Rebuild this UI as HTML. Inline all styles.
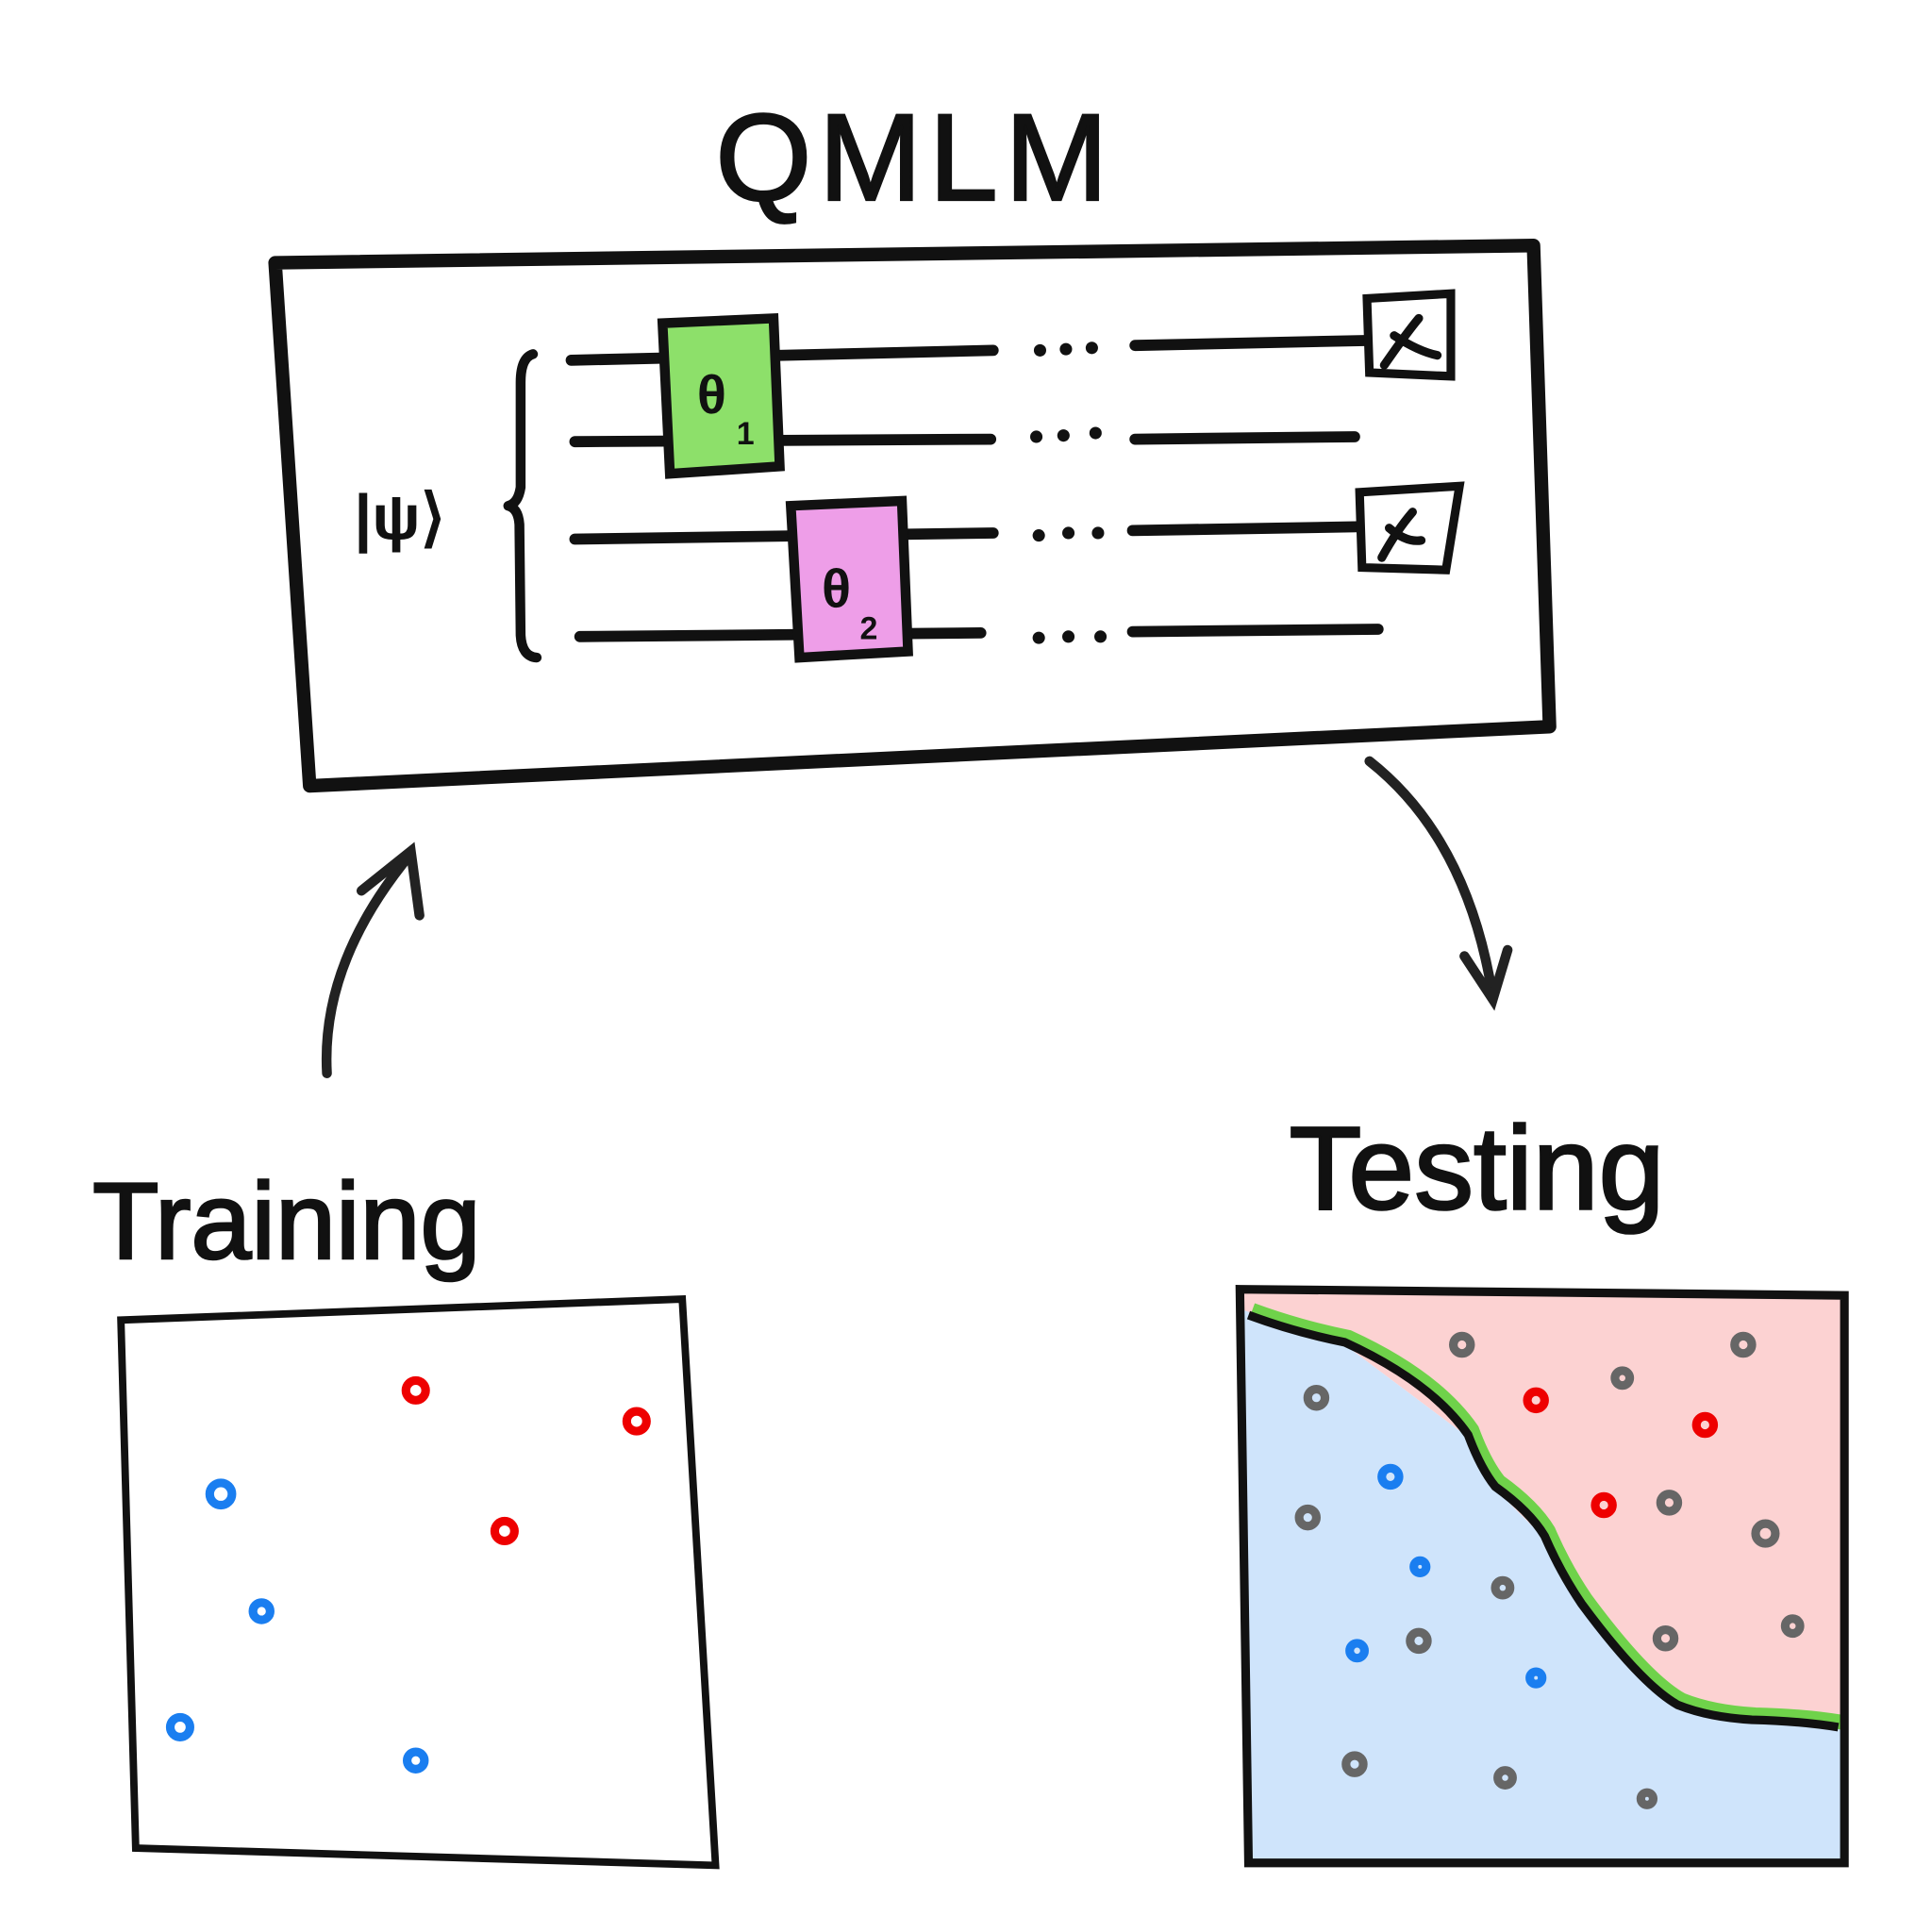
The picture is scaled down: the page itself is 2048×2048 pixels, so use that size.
<!DOCTYPE html>
<html><head><style>html,body{margin:0;padding:0;background:#fff}svg{display:block}</style></head>
<body>
<svg width="2048" height="2048" viewBox="0 0 1566 1566" xmlns="http://www.w3.org/2000/svg">
<g fill="none" stroke="#111" stroke-linecap="round" stroke-linejoin="round">
<polygon points="223,213 1243,199 1256,589 251,637" stroke-width="11"/>
<g stroke-width="9">
<line x1="463" y1="292" x2="805" y2="284"/><line x1="920" y1="280" x2="1106" y2="276"/>
<line x1="466" y1="358" x2="803" y2="356"/><line x1="920" y1="356" x2="1098" y2="354"/>
<line x1="466" y1="437" x2="805" y2="432"/><line x1="918" y1="430" x2="1100" y2="427"/>
<line x1="470" y1="516" x2="795" y2="513"/><line x1="918" y1="512" x2="1117" y2="510"/>
</g>
<path d="M432,287 Q422,290 422,310 L422,395 Q420,408 412,410 Q420,412 421,425 L422,515 Q423,532 435,533" stroke-width="8"/>
</g>
<g fill="#111">
<circle cx="843" cy="284" r="5"/><circle cx="864" cy="283" r="5"/><circle cx="885" cy="282" r="5"/>
<circle cx="840" cy="354" r="5"/><circle cx="862" cy="353" r="5"/><circle cx="888" cy="351" r="5"/>
<circle cx="842" cy="434" r="5"/><circle cx="866" cy="432" r="5"/><circle cx="890" cy="432" r="5"/>
<circle cx="842" cy="517" r="5"/><circle cx="866" cy="516" r="5"/><circle cx="892" cy="516" r="5"/>
</g>
<polygon points="537,262 627,258 632,378 543,384" fill="#8de06a" stroke="#111" stroke-width="8"/>
<text x="565" y="335" font-family="Liberation Sans, sans-serif" font-size="44" font-weight="bold" fill="#111">θ</text>
<text x="597" y="360" font-family="Liberation Sans, sans-serif" font-size="26" font-weight="bold" fill="#111">1</text>
<polygon points="641,410 731,406 736,528 648,533" fill="#ee9ee8" stroke="#111" stroke-width="8"/>
<text x="666" y="492" font-family="Liberation Sans, sans-serif" font-size="44" font-weight="bold" fill="#111">θ</text>
<text x="697" y="518" font-family="Liberation Sans, sans-serif" font-size="26" font-weight="bold" fill="#111">2</text>
<g fill="none" stroke="#111" stroke-width="7" stroke-linecap="round">
<polygon points="1108,242 1176,238 1176,305 1110,302"/>
<path d="M1122,296 Q1140,270 1150,258 M1130,272 Q1150,285 1165,288"/>
<polygon points="1102,399 1183,394 1172,462 1104,460"/>
<path d="M1120,452 Q1132,430 1145,415 M1126,428 Q1140,440 1152,438"/>
</g>
<text x="287" y="437" font-family="Liberation Sans, sans-serif" font-size="52" font-weight="bold" fill="#111">|ψ⟩</text>
<text x="742" y="162" text-anchor="middle" font-family="Liberation Sans, sans-serif" font-size="100" fill="#111" stroke="#111" stroke-width="2" letter-spacing="6">QMLM</text>
<text x="75" y="1020" font-family="Liberation Sans, sans-serif" font-size="88" fill="#111" stroke="#111" stroke-width="2">Training</text>
<text x="1045" y="980" font-family="Liberation Sans, sans-serif" font-size="96" fill="#111" stroke="#111" stroke-width="2">Testing</text>
<g fill="none" stroke="#222" stroke-width="8" stroke-linecap="round">
<path d="M265,870 Q260,780 333,692"/>
<path d="M293,722 L333,690 L340,742"/>
<path d="M1110,617 Q1190,680 1210,808"/>
<path d="M1187,775 L1210,810 L1222,770"/>
</g>
<polygon points="98,1070 553,1053 580,1512 110,1498" fill="none" stroke="#111" stroke-width="6"/>
<polygon points="1006,1046 1496,1050 1496,1395 1420,1393 1355,1380 1280,1300 1250,1245 1210,1205 1190,1165 1090,1090 1008,1062" fill="#fcd2d2"/>
<polygon points="1008,1062 1090,1090 1190,1165 1210,1205 1250,1245 1280,1300 1355,1380 1420,1395 1496,1400 1496,1510 1012,1510" fill="#cfe4fb"/>
<path d="M1012,1066 Q1050,1080 1090,1088 Q1160,1120 1190,1163 Q1200,1190 1212,1205 Q1240,1225 1252,1245 Q1265,1275 1282,1300 Q1330,1365 1360,1382 Q1385,1392 1420,1394 Q1460,1395 1490,1400" fill="none" stroke="#6fd24a" stroke-width="12" transform="translate(3,-4)"/>
<path d="M1012,1066 Q1050,1080 1090,1088 Q1160,1120 1190,1163 Q1200,1190 1212,1205 Q1240,1225 1252,1245 Q1265,1275 1282,1300 Q1330,1365 1360,1382 Q1385,1392 1420,1394 Q1460,1395 1490,1400" fill="none" stroke="#111" stroke-width="7"/>
<polygon points="1005,1045 1495,1050 1495,1510 1012,1510" fill="none" stroke="#111" stroke-width="7"/>
<g fill="none" stroke-width="7">
<g stroke="#e00">
<circle cx="337" cy="1127" r="8"/><circle cx="516" cy="1152" r="8"/><circle cx="409" cy="1241" r="8"/>
<circle cx="1245" cy="1135" r="7"/><circle cx="1382" cy="1155" r="7"/><circle cx="1300" cy="1220" r="7"/>
</g>
<g stroke="#1a7ef0">
<circle cx="179" cy="1211" r="9"/><circle cx="212" cy="1306" r="7"/><circle cx="146" cy="1400" r="8"/><circle cx="337" cy="1427" r="7"/>
<circle cx="1127" cy="1197" r="7"/><circle cx="1151" cy="1270" r="5"/><circle cx="1100" cy="1338" r="6"/><circle cx="1245" cy="1360" r="5"/>
</g>
<g stroke="#666">
<circle cx="1185" cy="1090" r="7"/><circle cx="1413" cy="1090" r="7"/><circle cx="1067" cy="1133" r="7"/><circle cx="1315" cy="1117" r="6"/>
<circle cx="1060" cy="1230" r="7"/><circle cx="1353" cy="1218" r="7"/><circle cx="1431" cy="1243" r="8"/><circle cx="1218" cy="1287" r="6"/>
<circle cx="1150" cy="1330" r="7"/><circle cx="1350" cy="1328" r="7"/><circle cx="1453" cy="1318" r="6"/><circle cx="1098" cy="1430" r="7"/>
<circle cx="1220" cy="1441" r="6"/><circle cx="1335" cy="1458" r="5"/>
</g>
</g>
</svg>
</body></html>
